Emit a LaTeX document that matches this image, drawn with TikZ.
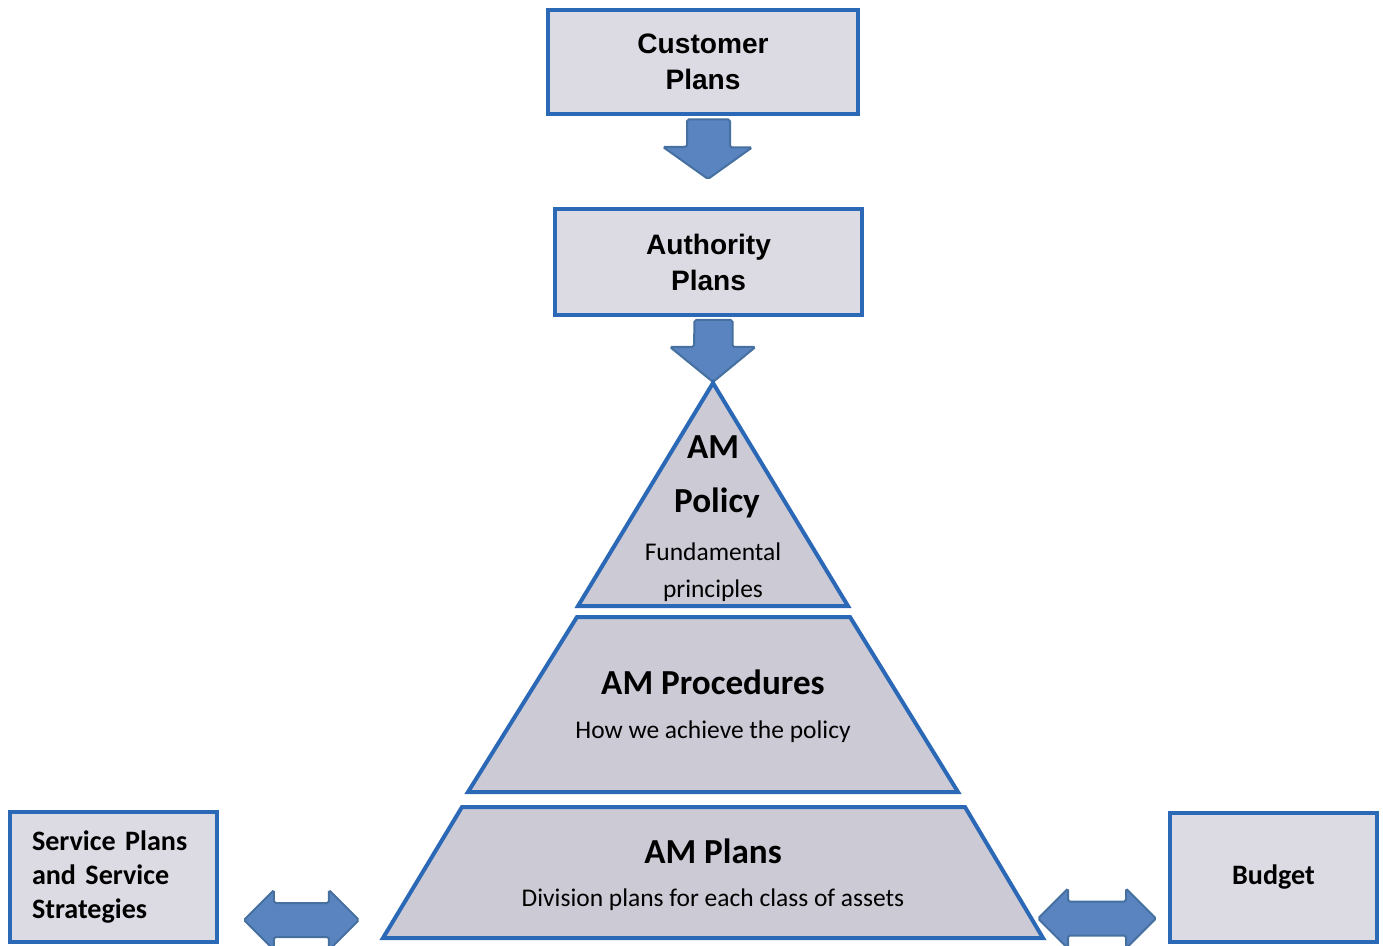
\documentclass[tikz,border=0pt]{standalone}
\usepackage{fontspec}
\setmainfont{Carlito}
\newfontfamily\arialfont{Liberation Sans}
\usetikzlibrary{calc}

\definecolor{boxblue}{HTML}{2B68B5}
\definecolor{boxfill}{HTML}{DCDBE3}
\definecolor{tierfill}{HTML}{CCCAD5}
\definecolor{arrowfill}{HTML}{5A84BF}
\definecolor{arrowline}{HTML}{46709F}

\tikzset{
  planbox/.style={draw=boxblue, fill=boxfill, line width=0.08cm, align=center,
    font=\arialfont\bfseries\fontsize{16}{20.5}\selectfont},
  sidebox/.style={draw=boxblue, fill=boxfill, line width=0.08cm,
    minimum width=4.14cm, minimum height=2.6cm,
    font=\bfseries\fontsize{16}{19.6}\selectfont},
  tier/.style={draw=boxblue, fill=tierfill, line width=0.08cm, line join=miter},
  tiertitle/.style={inner sep=0pt, font=\bfseries\fontsize{20}{24}\selectfont},
  tiertext/.style={inner sep=0pt, font=\fontsize{14.5}{17}\selectfont},
  blockarrow/.style={draw=arrowline, fill=arrowfill, line width=0.04cm, rounded corners=1pt}
}

\begin{document}
\begin{tikzpicture}[x=0.02cm, y=-0.02cm]
    \useasboundingbox (0,0) rectangle (1383,946);

    % Top boxes
    \node[planbox, minimum width=6.2cm, minimum height=2.1cm] (cust) at (703,62) {Customer\\Plans};
    \node[planbox, minimum width=6.14cm, minimum height=2.12cm] (auth) at (708.5,262) {Authority\\Plans};

    % Down arrows
    \draw[blockarrow] ($(cust.south)+(-16,3)$) -- ++(43,0) -- ++(0,28) -- ++(22,0)
        -- ($(cust.south)+(5,62.5)$) -- ++(-45,-32) -- ++(24,0) -- cycle;
    \draw[blockarrow] ($(auth.south)+(-14,3)$) -- ++(38,0) -- ++(0,27) -- ++(23,0)
        -- ($(auth.south)+(4.5,65)$) -- ++(-43,-35) -- ++(24,0) -- cycle;

    % Pyramid
    \draw[tier] (713,383) coordinate (apex) -- (848,606) -- (578,606) -- cycle;
    \draw[tier] (577,617) -- (850,617) -- (958,792) -- (468,792) -- cycle;
    \draw[tier] (462,807) -- (965,807) -- (1043,938) -- (383,938) -- cycle;

    % Pyramid text
    \node[tiertitle] (polam) at (713,447) {AM};
    \node[tiertitle] (pol) at (717,503) {Policy};
    \node[tiertext] (fund) at (713,552) {Fundamental};
    \node[tiertext] (princ) at (713,591) {principles};
    \node[tiertitle] (proc) at (713,682) {AM Procedures};
    \node[tiertext] (how) at (713,732) {How we achieve the policy};
    \node[tiertitle] (plans) at (713,851) {AM Plans};
    \node[tiertext] (div) at (713,900) {Division plans for each class of assets};

    % Side boxes
    \node[sidebox, align=left, text width=3.26cm, inner xsep=0.44cm] (svc) at (113.5,877)
        {Service Plans\\and Service\\Strategies};
    \node[sidebox, align=center] (budget) at (1273.5,877.5) {Budget};

    % Double arrows
    \coordinate (lefttip) at ($(svc.east)+(25,43)$);
    \coordinate (righttip) at ($(budget.west)+(-130,41)$);
    \draw[blockarrow] (lefttip) -- ++(30,-30) -- ++(0,13) -- ++(55,0) -- ++(0,-13)
        -- ++(30,30) -- ++(-30,30) -- ++(0,-13) -- ++(-55,0) -- ++(0,13) -- cycle;
    \draw[blockarrow] (righttip) -- ++(30,-30) -- ++(0,13) -- ++(58,0) -- ++(0,-13)
        -- ++(30,30) -- ++(-30,30) -- ++(0,-13) -- ++(-58,0) -- ++(0,13) -- cycle;
\end{tikzpicture}
\end{document}
